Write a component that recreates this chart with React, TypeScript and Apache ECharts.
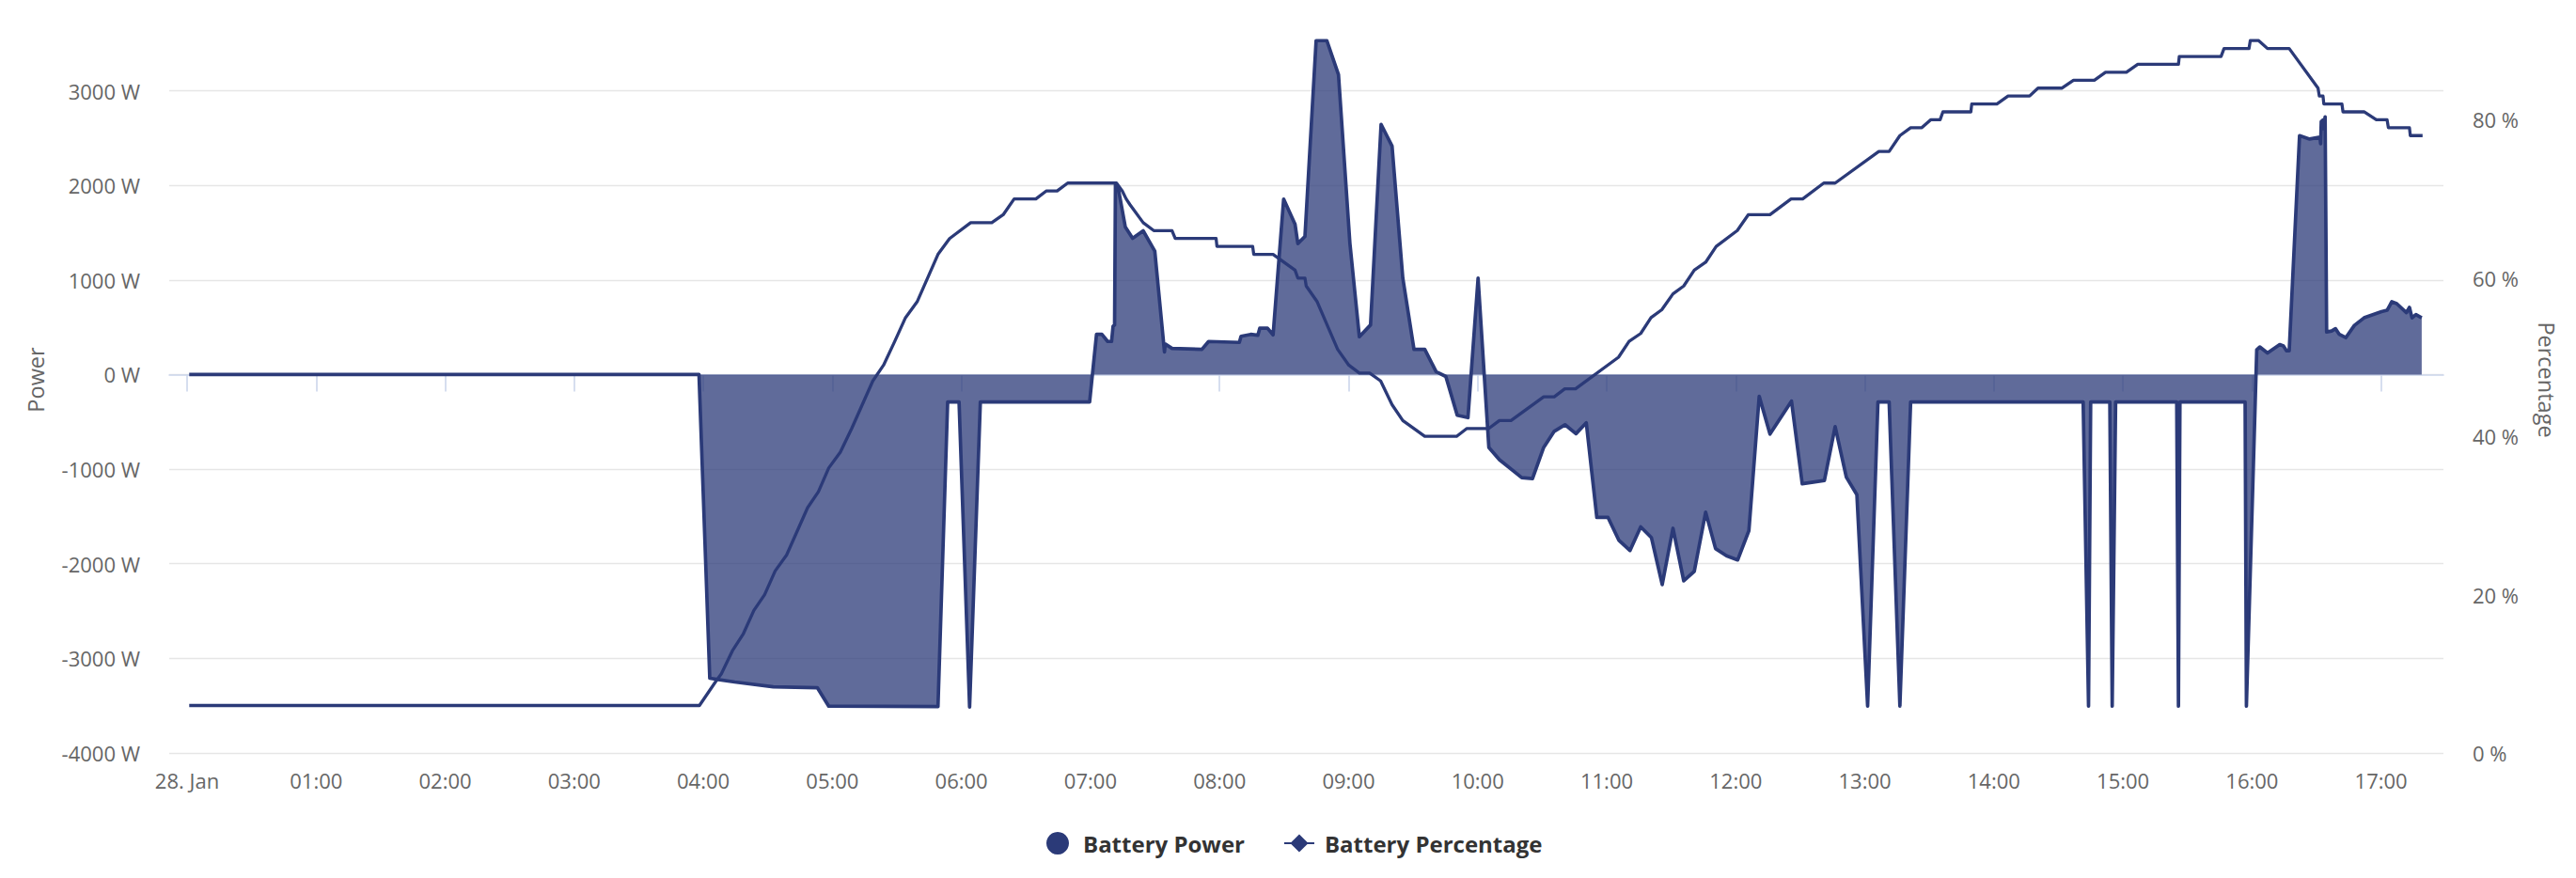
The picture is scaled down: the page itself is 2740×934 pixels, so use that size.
import React, { useEffect, useRef } from "react";
import * as echarts from "echarts";

// Battery power (W) samples: minutes after midnight, 28 Jan
const powerMinutes = [
  1, 238, 243, 254.6, 272.5, 293, 298.3, 349.1, 353.6, 358.9, 363.8, 368.8, 419.6,
  422.8, 425.3, 428, 429.8, 430.5, 431.2, 431.6, 433, 436.2, 439.6, 444.5, 449.9,
  454.4, 454.7, 457.9, 471.8, 474.9, 489.2, 490, 494.5, 497.8, 498.7, 502.3, 504.9,
  509.8, 515.1, 516.4, 519.7, 524.9, 529.9, 535.3, 540.6, 545, 550.2, 555.1, 560.2,
  565.2, 570.4, 575.4, 580.7, 585.2, 590.5, 595.5, 600.2, 605.2, 610.1, 620.5, 625.5,
  630.7, 635.6, 640.6, 645.7, 650.5, 655.4, 660.6, 665.6, 670.8, 675.8, 680.8, 685.8,
  690.8, 695.8, 700.7, 706, 710.6, 715.7, 720.9, 726.1, 730.9, 735.9, 745.9, 750.9,
  761.2, 766.2, 771.4, 776.3, 781.3, 786.1, 791.3, 796.3, 801.3, 881.5, 884, 885,
  893.9, 895, 896.6, 925, 925.8, 926.5, 956.8, 957.4, 961.5, 962.2, 963.6, 967.2,
  972.9, 974.6, 976, 977.3, 982.1, 986.8, 991.6, 991.9, 992.2, 992.9, 993.3, 994,
  994.7, 997, 998.8, 1000.6, 1003.6, 1007.6, 1012.1, 1020.2, 1022.8, 1025, 1027.3,
  1031.8, 1033.2, 1034.4, 1036.2, 1038.9,
];
const powerWatts = [
  0, 0, -3210, -3250, -3300, -3310, -3505, -3510, -290, -290, -3515, -290, -290,
  425, 425, 350, 350, 510, 525, 2010, 1960, 1560, 1440, 1520, 1305,
  240, 325, 277, 267, 350, 340, 405, 425, 415, 490, 490, 420,
  1855, 1590, 1385, 1460, 3530, 3530, 3170, 1390, 400, 525, 2645, 2415,
  1020, 267, 267, 30, -20, -430, -455, 1020, -770, -900, -1090, -1100,
  -770, -600, -530, -625, -510, -1510, -1510, -1750, -1860, -1610, -1725, -2220,
  -1625, -2180, -2080, -1455, -1840, -1915, -1960, -1650, -230, -630, -280, -1155,
  -1120, -550, -1085, -1270, -3505, -290, -290, -3505, -290, -290, -3505, -290,
  -290, -3505, -290, -290, -3505, -290, -290, -3505, -290, 262, 292, 228,
  317, 302, 252, 252, 2525, 2490, 2510, 2440, 2675, 2690, 2600, 2725,
  450, 460, 485, 425, 390, 520, 600, 665, 680, 770, 750,
  655, 710, 600, 635, 600,
];

// Battery state of charge (%) samples
const percentMinutes = [
  1, 238.2, 245.7, 248.4, 253.7, 258.5, 263.5, 268.5, 273.4, 278.7, 288.5, 293.5,
  298.3, 303.7, 309, 318.8, 323.8, 329, 334, 339.4, 349.1, 354.5, 364.3, 374.1,
  379.4, 384.5, 394.6, 399.4, 404.5, 409.4, 432.1, 434.8, 436.6, 438.3, 444.5, 449.4,
  457.9, 459.4, 478.4, 478.8, 495.4, 495.9, 504.9, 515.1, 516.4, 519.7, 520.3, 525.4,
  534.9, 540.1, 545, 549.8, 554.9, 560.2, 565.2, 575.4, 590.2, 595, 605.2, 610.1,
  615.5, 630.7, 635.6, 640.5, 645.5, 665.5, 670.4, 675.8, 680.6, 685.6, 690.8, 695.8,
  700.7, 706, 710.9, 720.7, 725.8, 735.9, 745.7, 751.1, 760.9, 766.2, 786.5, 791.3,
  796.3, 801.3, 806.5, 810.6, 815, 816.3, 829.3, 829.7, 841.4, 846.6, 856.6, 860.5,
  871.7, 877, 886.7, 891.9, 901.6, 906.9, 925.8, 926.2, 945.6, 947, 958.6, 959.2,
  963.1, 967.2, 977.3, 990.7, 991.3, 993, 993.4, 1001.8, 1002.3, 1012.1, 1017.8, 1022.8,
  1023.4, 1033.2, 1033.6, 1039.3,
];
const percentValues = [
  6, 6, 9, 10, 13, 15, 18, 20, 23, 25, 31, 33,
  36, 38, 41, 47, 49, 52, 55, 57, 63, 65, 67, 67,
  68, 70, 70, 71, 71, 72, 72, 71, 70, 69.3, 67, 66,
  66, 65, 65, 64, 64, 63, 63, 61, 60, 60, 59, 57,
  51, 49, 48, 48, 47, 44, 42, 40, 40, 41, 41, 42,
  42, 45, 45, 46, 46, 50, 52, 53, 55, 56, 58, 59,
  61, 62, 64, 66, 68, 68, 70, 70, 72, 72, 76, 76,
  78, 79, 79, 80, 80, 81, 81, 82, 82, 83, 83, 84,
  84, 85, 85, 86, 86, 87, 87, 88, 88, 89, 89, 90,
  90, 89, 89, 84, 83, 83, 82, 82, 81, 81, 80, 80,
  79, 79, 78, 78,
];

const hourTicks = [0, 60, 120, 180, 240, 300, 360, 420, 480, 540, 600, 660, 720, 780, 840, 900, 960, 1020];
const powerTicks = [-4000, -3000, -2000, -1000, 0, 1000, 2000, 3000];
const percentTicks = [0, 20, 40, 60, 80];

const LINE = "#2b3a78";
const FONT = "Open Sans";
const LABEL = "#666666";

export default function App() {
  const ref = useRef<HTMLDivElement>(null);

  useEffect(() => {
    document.body.style.margin = "0";
    if (!ref.current) return;
    const chart = echarts.init(ref.current, undefined, { renderer: "svg" });
    const option: any = {
      animation: false,
      backgroundColor: "#ffffff",
      grid: { left: 180, right: 141, top: 7, bottom: 133, containLabel: false, outerBoundsMode: "none" },
      legend: {
        left: 1108,
        top: 880,
        itemWidth: 32,
        itemHeight: 24,
        itemGap: 41,
        selectedMode: false,
        textStyle: { fontFamily: FONT, fontWeight: "bold", fontSize: 24, color: "#333333", padding: [0, 0, 0, 6] },
        data: [
          { name: "Battery Power", icon: "circle" },
          { name: "Battery Percentage" },
        ],
      },
      xAxis: {
        type: "value",
        min: -8.3,
        max: 1049,
        splitLine: { show: false },
        axisLine: { show: true, lineStyle: { color: "#ccd6eb", width: 1.6 } },
        axisTick: { show: true, length: 18, customValues: hourTicks, lineStyle: { color: "#ccd6eb", width: 1.6 } },
        axisLabel: {
          customValues: hourTicks,
          margin: 18,
          color: LABEL,
          fontFamily: FONT,
          fontSize: 22,
          formatter: (v: number) => (v === 0 ? "28. Jan" : String(Math.round(v / 60)).padStart(2, "0") + ":00"),
        },
      },
      yAxis: [
        {
          type: "value",
          min: -4000,
          max: 3890,
          interval: 1000,
          name: "Power",
          nameLocation: "middle",
          nameGap: 130,
          nameTextStyle: { color: LABEL, fontFamily: FONT, fontSize: 23.5 },
          axisLine: { show: false },
          axisTick: { show: false },
          splitLine: { show: true, showMaxLine: false, lineStyle: { color: "#e6e6e6", width: 1.3 } },
          axisLabel: {
            showMaxLabel: false,
            margin: 31,
            color: LABEL,
            fontFamily: FONT,
            fontSize: 22,
            formatter: (v: number) => (powerTicks.includes(v) ? `${v} W` : ""),
          },
        },
        {
          type: "value",
          min: 0,
          max: 94.3,
          interval: 20,
          name: "Percentage",
          nameLocation: "middle",
          nameRotate: -90,
          nameGap: 98,
          nameTextStyle: { color: LABEL, fontFamily: FONT, fontSize: 23.5 },
          axisLine: { show: false },
          axisTick: { show: false },
          splitLine: { show: false },
          axisLabel: {
            showMaxLabel: false,
            margin: 31,
            color: LABEL,
            fontFamily: FONT,
            fontSize: 22,
            formatter: (v: number) => (percentTicks.includes(v) ? `${v} %` : ""),
          },
        },
      ],
      series: [
        {
          name: "Battery Power",
          type: "line",
          yAxisIndex: 0,
          data: powerMinutes.map((m, i) => [m, powerWatts[i]]),
          showSymbol: false,
          symbol: "circle",
          color: LINE,
          itemStyle: { color: LINE },
          lineStyle: { color: LINE, width: 3.7, join: "round" },
          areaStyle: { color: LINE, opacity: 0.75 },
          silent: true,
          z: 2,
        },
        {
          name: "Battery Percentage",
          type: "line",
          yAxisIndex: 1,
          data: percentMinutes.map((m, i) => [m, percentValues[i]]),
          showSymbol: false,
          symbol: "diamond",
          symbolSize: 10,
          color: LINE,
          itemStyle: { color: LINE },
          lineStyle: { color: LINE, width: 3.3, join: "round" },
          silent: true,
          z: 3,
        },
      ],
    };
    chart.setOption(option);
    return () => chart.dispose();
  }, []);

  return <div ref={ref} style={{ width: 2740, height: 934 }} />;
}
